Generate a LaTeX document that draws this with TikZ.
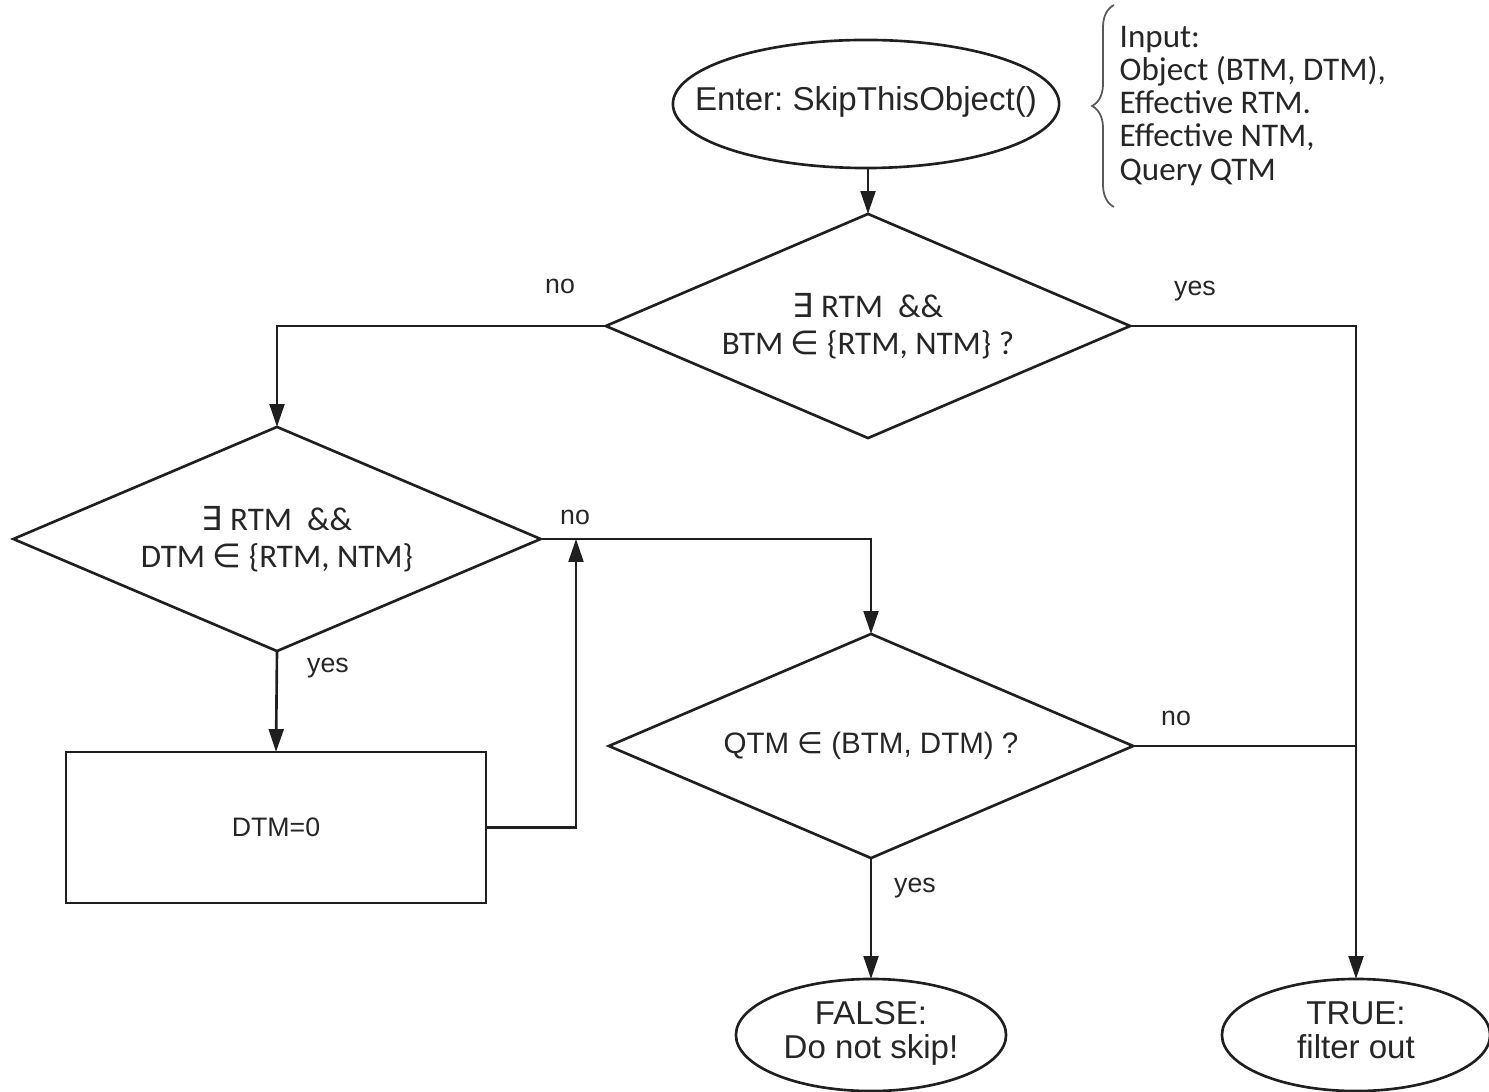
\documentclass[tikz,border=0pt]{standalone}
\usepackage{fontspec}
\setmainfont{Liberation Sans}
\newfontfamily\calib{Carlito}
\newfontfamily\symf{DejaVu Sans}
\usetikzlibrary{shapes.geometric,arrows.meta,decorations.pathreplacing}
\newcommand{\exsym}{{\symf\char"2203}}
\newcommand{\insym}{{\symf\char"2208}}
% text set in a zero-width box so that the shape keeps its given size
\newcommand{\fixtext}[1]{\makebox[0pt]{\begin{tabular}{@{}c@{}}#1\end{tabular}}}
\frenchspacing
\begin{document}
\begin{tikzpicture}[x=0.01cm,y=-0.01cm,
  flow/.style={line width=0.75pt, draw=black!88},
  arr/.style={flow, -{Triangle[length=6.5pt,width=4.2pt]}},
  term/.style={ellipse, flow, inner sep=0pt, outer sep=0pt, align=center,
    text=black!85, font=\fontsize{9.4}{9.7}\selectfont},
  dec/.style={diamond, flow, inner sep=0pt, outer sep=0pt, align=center,
    aspect=2.34, text=black!85, minimum width=5.24cm, minimum height=2.24cm},
  procbox/.style={rectangle, flow, inner sep=0pt, outer sep=0pt, align=center,
    text=black!85, font=\fontsize{7.6}{9}\selectfont},
  lbl/.style={inner sep=0pt, text=black!85, font=\fontsize{7.6}{9}\selectfont}
]
\useasboundingbox (0,0) rectangle (1489,1092);

% terminals
\node[term, minimum width=3.86cm, minimum height=1.28cm] (enter) at (866,104)
  {\fixtext{Enter: SkipThisObject()}};
\node[term, minimum width=2.70cm, minimum height=1.12cm] (false) at (871,1035)
  {\fixtext{FALSE:\\Do not skip!}};
\node[term, minimum width=2.68cm, minimum height=1.12cm] (true) at (1356,1035)
  {\fixtext{TRUE:\\filter out}};

% decisions
\node[dec, font=\calib\fontsize{9.4}{10.6}\selectfont] (d1) at (868,326)
  {\exsym\ RTM\ \ \&\&\\BTM \insym\ \{RTM, NTM\} ?};
\node[dec, font=\calib\fontsize{9.4}{10.6}\selectfont, minimum width=5.27cm] (d2) at (277,539)
  {\exsym\ RTM\ \ \&\&\\DTM \insym\ \{RTM, NTM\}};
\node[dec, font=\fontsize{8.4}{10}\selectfont] (d3) at (871,746)
  {QTM \insym\ (BTM, DTM) ?};

% process
\node[procbox, minimum width=4.20cm, minimum height=1.51cm] (zero) at (276,827.5) {DTM=0};

% input description with brace
\node[inner sep=0pt, anchor=west, align=left, text=black!85,
  font=\calib\fontsize{9.4}{9.4}\selectfont] (input) at (1119,106)
  {Input:\\Object (BTM, DTM),\\Effective RTM.\\Effective NTM,\\Query QTM};
\coordinate (brb) at (1114,207);
\coordinate (brt) at (1114,5);
\draw[line width=0.5pt, draw=black!65, decorate,
  decoration={brace, amplitude=0.22cm}] (brb) -- (brt);

% junctions
\coordinate (merge) at (576,539);
\coordinate (join) at (1356,746);

% connectors
\draw[arr] (enter.south -| d1.north) -- (d1.north);
\draw[arr] (d1.west) -| (d2.north);
\draw[arr] (d1.east) -| (true.north);
\draw[arr] (d2.south) -- (zero.north);
\draw[arr] (d2.east) -| (d3.north);
\draw[arr] (zero.east) -| (merge);
\draw[flow] (d3.east) -- (join);
\draw[arr] (d3.south) -- (false.north);

% branch labels
\node[lbl] (l1) at (560,286) {no};
\node[lbl] (l2) at (1195,291) {yes};
\node[lbl] (l3) at (575,517) {no};
\node[lbl] (l4) at (328,668) {yes};
\node[lbl] (l5) at (1176,718) {no};
\node[lbl] (l6) at (915,888) {yes};
\end{tikzpicture}
\end{document}
